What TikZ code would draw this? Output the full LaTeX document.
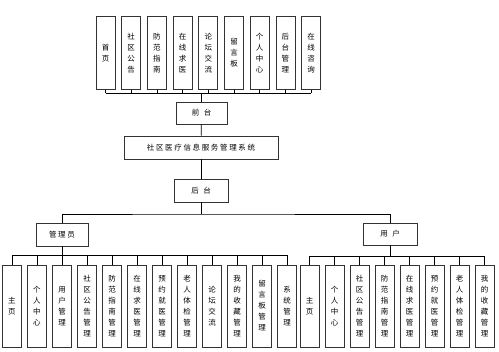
\documentclass[tikz,border=0pt]{standalone}
\usepackage{fontspec}
\newfontfamily\cjk{Noto Sans CJK SC}
\newfontfamily\cjkls[LetterSpace=22]{Noto Sans CJK SC}
\def\mysplit#1{\mysplitA#1\relax}
\def\mysplitA#1#2\relax{#1\ifx\relax#2\relax\else\\\mysplitA#2\relax\fi}
\newcommand\vt[1]{\expandafter\mysplit\expandafter{#1}}
\tikzset{
  vbox/.style={draw=black!80, line width=0.8pt, minimum width=19pt, inner sep=0pt, align=center,
    font=\cjk\fontsize{7.5}{11}\selectfont, text=black},
  hbox/.style={draw=black!80, line width=0.8pt, inner sep=0pt, align=center,
    font=\cjk\fontsize{7.5}{9}\selectfont, text=black},
  conn/.style={draw=black, line width=0.8pt}
}
\begin{document}
\begin{tikzpicture}[x=1pt,y=-1pt]
\useasboundingbox (0,0) rectangle (499,352);
% top row
\foreach \t [count=\i] in {首页,社区公告,防范指南,在线求医,论坛交流,留言板,个人中心,后台管理,在线咨询}
  \node[vbox, minimum height=73.5pt] (t\i) at ({105.5+25.7*(\i-1)},52.75) {\vt{\t}};
\node[hbox, minimum width=51pt, minimum height=22pt] (qian) at (201.5,113) {前\hspace{4.5pt}台};
\node[hbox, minimum width=154pt, minimum height=23pt] (sys) at (201,147.5) {\cjkls 社区医疗信息服务管理系统};
\node[hbox, minimum width=54pt, minimum height=23pt] (hou) at (201,190.5) {后\hspace{4.5pt}台};
\node[hbox, minimum width=52pt, minimum height=23pt] (admin) at (62,234.5) {\cjkls 管理员};
\node[hbox, minimum width=54pt, minimum height=22pt] (user) at (390,234) {用\hspace{4.5pt}户};
% admin children
\foreach \t [count=\i] in {主页,个人中心,用户管理,社区公告管理,防范指南管理,在线求医管理,预约就医管理,老人体检管理,论坛交流,我的收藏管理,留言板管理,系统管理}
  \node[vbox, minimum height=82pt] (a\i) at ({12+25*(\i-1)},306) {\vt{\t}};
% user children
\foreach \t [count=\i] in {主页,个人中心,社区公告管理,防范指南管理,在线求医管理,预约就医管理,老人体检管理,我的收藏管理}
  \node[vbox, minimum height=82pt] (u\i) at ({309.5+25*(\i-1)},306) {\vt{\t}};
% connectors top
\coordinate (tb) at (201.5,93);
\foreach \i in {1,...,9} \draw[conn] (t\i.south) -- (t\i.south |- tb);
\draw[conn] (t1.south |- tb) -- (t9.south |- tb);
\draw[conn] (tb) -- (qian.north);
\draw[conn] (qian) -- (sys);
\draw[conn] (sys) -- (hou);
\coordinate (hb) at (201,214);
\draw[conn] (hou.south) -- (hb);
\draw[conn] (admin.north) |- (hb) -| (user.north);
% admin bus
\coordinate (ab) at (62,255.5);
\draw[conn] (admin.south) -- (ab);
\foreach \i in {1,...,12} \draw[conn] (a\i.north) -- (a\i.north |- ab);
\draw[conn] (a1.north |- ab) -- (a12.north |- ab);
% user bus
\coordinate (ub) at (390,256);
\draw[conn] (user.south) -- (ub);
\foreach \i in {1,...,8} \draw[conn] (u\i.north) -- (u\i.north |- ub);
\draw[conn] (u1.north |- ub) -- (u8.north |- ub);
\end{tikzpicture}
\end{document}
